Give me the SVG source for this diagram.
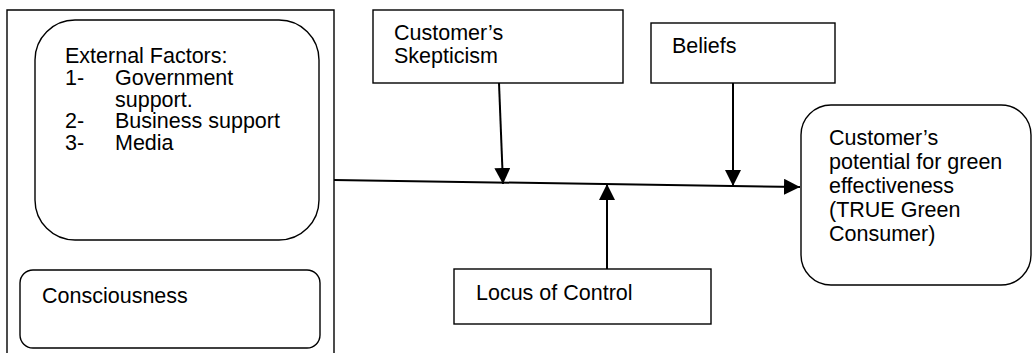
<svg xmlns="http://www.w3.org/2000/svg" width="1032" height="353" viewBox="0 0 1032 353">
<style>
.box{fill:#fff;stroke:#000;stroke-width:1.4}
.t{font-family:"Liberation Sans",Arial,sans-serif;font-size:21.5px;fill:#000}
.c{stroke:#000;stroke-width:2;fill:none}
</style>
<defs>
<marker id="ah2" viewBox="0 0 10 10" refX="10" refY="5" markerWidth="16" markerHeight="16" orient="auto" markerUnits="userSpaceOnUse">
<path d="M0,0 L10,5 L0,10 z" fill="#000"/>
</marker>
</defs>
<rect width="1032" height="353" fill="#fff"/>
<g id="outer">
<path class="box" d="M7,360 L7,10 L334,10 L334,360" fill="none"/>
</g>
<g id="external">
<rect class="box" x="35" y="20" width="284" height="220" rx="40" ry="40"/>
<text class="t" x="65" y="63">External Factors:</text>
<text class="t" x="65" y="85">1-</text>
<text class="t" x="115" y="85">Government</text>
<text class="t" x="115" y="106.5">support.</text>
<text class="t" x="65" y="128">2-</text>
<text class="t" x="115" y="128">Business support</text>
<text class="t" x="65" y="149.5">3-</text>
<text class="t" x="115" y="149.5">Media</text>
</g>
<g id="consciousness">
<rect class="box" x="20" y="270" width="300" height="78" rx="13" ry="13"/>
<text class="t" x="42" y="303">Consciousness</text>
</g>
<g id="skepticism">
<rect class="box" x="373" y="10" width="250" height="73"/>
<text class="t" x="394" y="40">Customer’s</text>
<text class="t" x="394" y="63">Skepticism</text>
</g>
<g id="beliefs">
<rect class="box" x="651" y="23" width="184" height="60"/>
<text class="t" x="672" y="53">Beliefs</text>
</g>
<g id="locus">
<rect class="box" x="454" y="269" width="257" height="55"/>
<text class="t" x="476" y="300">Locus of Control</text>
</g>
<g id="outcome">
<rect class="box" x="801" y="105" width="230" height="180" rx="30" ry="30"/>
<text class="t" x="829" y="145">Customer’s</text>
<text class="t" x="829" y="169">potential for green</text>
<text class="t" x="829" y="193">effectiveness</text>
<text class="t" x="829" y="217">(TRUE Green</text>
<text class="t" x="829" y="241">Consumer)</text>
</g>
<g id="connectors">
<line class="c" x1="334" y1="180" x2="800" y2="187" marker-end="url(#ah2)"/>
<line class="c" x1="499" y1="83" x2="503" y2="184" marker-end="url(#ah2)"/>
<line class="c" x1="733" y1="83" x2="733" y2="186" marker-end="url(#ah2)"/>
<line class="c" x1="607" y1="269" x2="607" y2="184" marker-end="url(#ah2)"/>
</g>
</svg>
